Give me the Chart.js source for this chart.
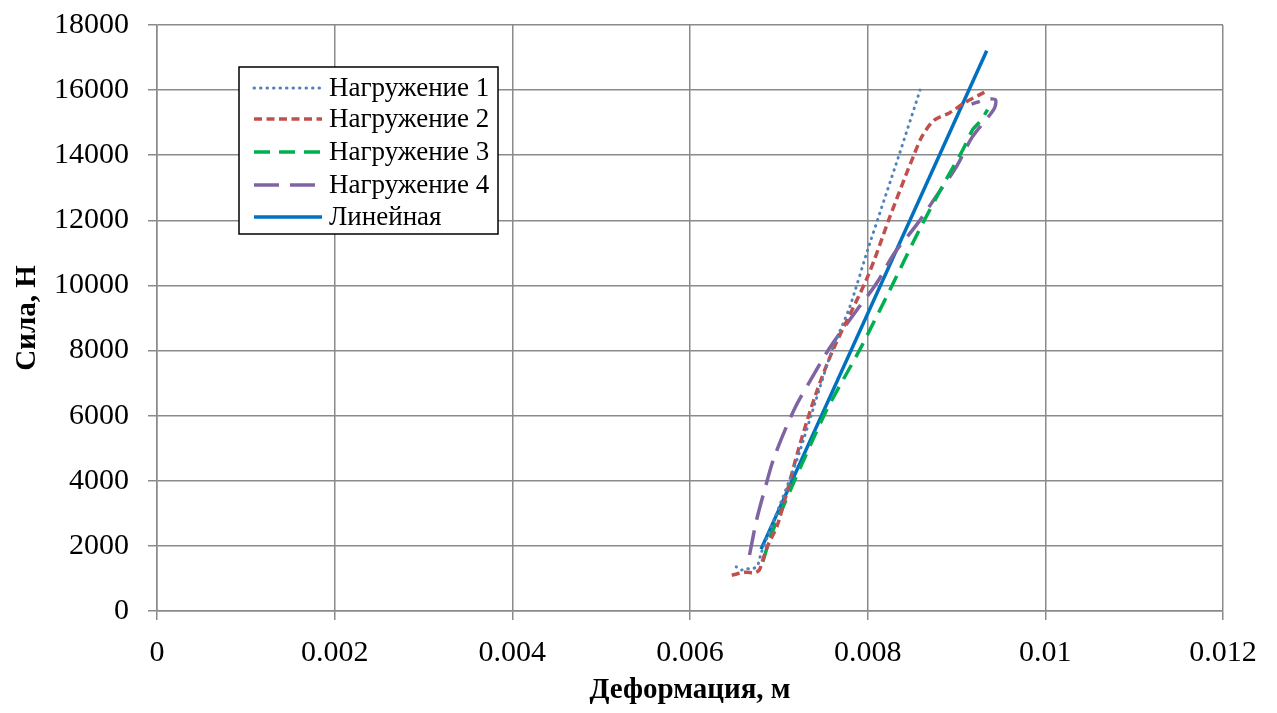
<!DOCTYPE html>
<html>
<head>
<meta charset="utf-8">
<script src="https://cdn.jsdelivr.net/npm/chart.js@4/dist/chart.umd.min.js"></script>
<style>
  html, body { margin: 0; padding: 0; background: #ffffff; }
  #wrap { width: 1277px; height: 713px; position: relative; }
</style>
</head>
<body>
<div id="wrap"><canvas id="c" width="1277" height="713"></canvas></div>
<script>
// ---- Data ----
const seriesNames = ["Нагружение 1", "Нагружение 2", "Нагружение 3", "Нагружение 4", "Линейная"];

const load1X = [0.00652, 0.00658, 0.00663, 0.00669, 0.00675, 0.00677, 0.0068, 0.00712, 0.00723, 0.00742, 0.0076, 0.0078, 0.0080, 0.00836, 0.00859];
const load1Y = [1360, 1260, 1310, 1280, 1360, 1460, 1770, 4020, 4850, 6500, 8020, 9350, 11090, 14060, 16000];

const load2X = [0.00647, 0.00662, 0.00673, 0.00678, 0.00682, 0.00687, 0.00699, 0.00723, 0.00742, 0.00761, 0.0080, 0.00825, 0.00843, 0.00852, 0.00861, 0.00875, 0.00892, 0.00909, 0.00929, 0.00934];
const load2Y = [1100, 1190, 1180, 1260, 1570, 1975, 2690, 5050, 6690, 8020, 10270, 12110, 13390, 14000, 14570, 15080, 15300, 15610, 15900, 15970];

const load3X = [0.00682, 0.00692, 0.00752, 0.00791, 0.00825, 0.00858, 0.00888, 0.00907, 0.00918, 0.00928, 0.00935];
const load3Y = [1515, 2390, 6075, 8020, 9860, 11700, 13240, 14160, 14780, 15080, 15400];

const load4X = [0.00667, 0.00675, 0.00684, 0.00695, 0.00718, 0.00737, 0.00757, 0.00785, 0.0081, 0.0083, 0.00855, 0.00877, 0.009, 0.00918, 0.00942, 0.00944, 0.00935, 0.00917];
const load4Y = [1720, 2800, 3720, 4740, 6230, 7150, 8070, 9140, 10070, 10990, 11860, 12730, 13650, 14570, 15410, 15700, 15720, 15570];

const linearX = [0.0068, 0.00934];
const linearY = [1900, 17210];

const xTicks = [0, 0.002, 0.004, 0.006, 0.008, 0.01, 0.012];
const yTicks = [0, 2000, 4000, 6000, 8000, 10000, 12000, 14000, 16000, 18000];

const xTitle = "Деформация, м";
const yTitle = "Сила, Н";

// ---- Build ----
function pts(xs, ys) { return xs.map((x, i) => ({ x: x, y: ys[i] })); }

const serif = "'Liberation Serif', 'Times New Roman', serif";

const datasets = [
  { label: seriesNames[0], data: pts(load1X, load1Y), borderColor: "#4F81BD", borderWidth: 3, borderDash: [0.5, 6], borderCapStyle: "round", tension: 0.2 },
  { label: seriesNames[1], data: pts(load2X, load2Y), borderColor: "#C0504D", borderWidth: 3.5, borderDash: [8, 4.5], borderCapStyle: "butt", tension: 0.3 },
  { label: seriesNames[2], data: pts(load3X, load3Y), borderColor: "#00B050", borderWidth: 3.5, borderDash: [16, 9], borderCapStyle: "butt", tension: 0.2 },
  { label: seriesNames[3], data: pts(load4X, load4Y), borderColor: "#8064A2", borderWidth: 3.5, borderDash: [25, 11], borderCapStyle: "butt", tension: 0.3 },
  { label: seriesNames[4], data: pts(linearX, linearY), borderColor: "#0070C0", borderWidth: 3.5, borderDash: [], borderCapStyle: "butt", tension: 0 }
].map(d => Object.assign(d, { showLine: true, pointRadius: 0, pointHoverRadius: 0, fill: false, backgroundColor: d.borderColor }));

const legendPlugin = {
  id: "boxLegend",
  afterDraw(chart) {
    const ctx = chart.ctx;
    const bx = 239, by = 67, bw = 259, bh = 167;
    ctx.save();
    ctx.fillStyle = "#ffffff";
    ctx.fillRect(bx, by, bw, bh);
    ctx.strokeStyle = "#000000";
    ctx.lineWidth = 1.5;
    ctx.strokeRect(bx, by, bw, bh);
    const rows = [88, 119, 152, 185, 217];
    chart.data.datasets.forEach((ds, i) => {
      const y = rows[i];
      ctx.beginPath();
      ctx.strokeStyle = ds.borderColor;
      ctx.lineWidth = ds.borderWidth;
      ctx.lineCap = ds.borderCapStyle;
      ctx.setLineDash(ds.borderDash);
      ctx.moveTo(254, y);
      ctx.lineTo(322, y);
      ctx.stroke();
      ctx.setLineDash([]);
      ctx.fillStyle = "#000000";
      ctx.font = "27px " + serif;
      ctx.textBaseline = "middle";
      ctx.textAlign = "left";
      ctx.fillText(ds.label, 329, y + 1);
    });
    ctx.restore();
  }
};

const gridColor = "#8a8a8a";

new Chart(document.getElementById("c"), {
  type: "scatter",
  data: { datasets: datasets },
  plugins: [legendPlugin],
  options: {
    responsive: false,
    animation: false,
    devicePixelRatio: 1,
    layout: { padding: { top: 25, right: 54, left: 0, bottom: 0 } },
    plugins: { legend: { display: false }, tooltip: { enabled: false } },
    scales: {
      x: {
        type: "linear",
        min: 0, max: 0.012,
        afterBuildTicks: (s) => { s.ticks = xTicks.map(v => ({ value: v })); },
        afterFit: (s) => { s.height = 102; s.paddingRight = 0; s.paddingLeft = 0; },
        grid: { color: gridColor, lineWidth: 1.5, tickLength: 9, drawTicks: true },
        border: { color: gridColor, width: 1.5 },
        ticks: {
          color: "#000",
          font: { family: serif, size: 30 },
          padding: 15,
          maxRotation: 0,
          callback: (v) => String(parseFloat(Number(v).toFixed(4)))
        },
        title: { display: true, text: xTitle, color: "#000", font: { family: serif, size: 29, weight: "bold" }, padding: { top: 0, bottom: 5 } }
      },
      y: {
        type: "linear",
        min: 0, max: 18000,
        afterBuildTicks: (s) => { s.ticks = yTicks.map(v => ({ value: v })); },
        afterFit: (s) => { s.width = 157; s.paddingTop = 0; s.paddingBottom = 0; },
        grid: { color: gridColor, lineWidth: 1.5, tickLength: 9, drawTicks: true },
        border: { color: gridColor, width: 1.5 },
        ticks: {
          color: "#000",
          font: { family: serif, size: 30 },
          padding: 19,
          callback: (v) => String(v)
        },
        title: { display: true, text: yTitle, color: "#000", font: { family: serif, size: 29, weight: "bold" }, padding: { top: 10, bottom: 0 } }
      }
    }
  }
});
</script>
</body>
</html>
